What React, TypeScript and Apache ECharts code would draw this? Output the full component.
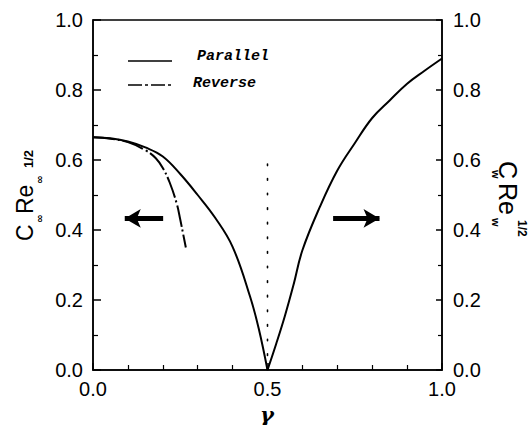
import React, { useEffect, useRef } from "react";
import * as echarts from "echarts";

// Parallel flow: left branch (C_inf Re_inf^1/2) and right branch (C_w Re_w^1/2)
const parallelLeftX = [0, 0.05, 0.1, 0.15, 0.2, 0.25, 0.3, 0.35, 0.4, 0.45, 0.475, 0.5];
const parallelLeftY = [0.665, 0.662, 0.653, 0.636, 0.61, 0.56, 0.5, 0.435, 0.352, 0.21, 0.118, 0.0];
const parallelRightX = [0.5, 0.525, 0.55, 0.575, 0.6, 0.65, 0.7, 0.75, 0.8, 0.85, 0.9, 0.95, 1.0];
const parallelRightY = [0.0, 0.075, 0.155, 0.245, 0.342, 0.466, 0.57, 0.648, 0.72, 0.77, 0.818, 0.855, 0.89];
// Reverse flow
const reverseX = [0, 0.05, 0.1, 0.15, 0.18, 0.2, 0.22, 0.24, 0.25, 0.258, 0.266];
const reverseY = [0.665, 0.661, 0.651, 0.628, 0.605, 0.577, 0.535, 0.475, 0.43, 0.39, 0.35];
// Dotted marker at gamma = 0.5
const dottedX = [0.5, 0.5];
const dottedY = [0.0, 0.62];
// Arrows (left points to left axis, right points to right axis)
const leftArrowX = [0.201, 0.091];
const rightArrowX = [0.688, 0.821];
const arrowY = 0.433;

const yTicks = [0, 0.2, 0.4, 0.6, 0.8, 1.0];
const xTicks = [0, 0.5, 1.0];

const zip = (xs: number[], ys: number[]) => xs.map((x, i) => [x, ys[i]]);

export default function App() {
  const ref = useRef<HTMLDivElement>(null);
  useEffect(() => {
    const chart = echarts.init(ref.current!, undefined, { renderer: "svg" });
    const black = "#000";
    const tickFont = { color: black, fontFamily: "Liberation Sans", fontSize: 20 };
    const yAxisBase = {
      type: "value",
      min: yTicks[0],
      max: yTicks[yTicks.length - 1],
      interval: 0.2,
      axisLine: { show: true, lineStyle: { color: black, width: 1.5 } },
      axisTick: { show: true, inside: true, length: 8, lineStyle: { color: black, width: 1.5 } },
      minorTick: { show: true, splitNumber: 2, length: 5, lineStyle: { color: black, width: 1.2 } },
      splitLine: { show: false },
      axisLabel: { ...tickFont, margin: 10, formatter: (v: number) => v.toFixed(1) },
    };
    const curve = (name: string, data: number[][], dash?: number[]) => ({
      name,
      type: "line",
      data,
      showSymbol: false,
      symbol: "none",
      smooth: 0.4,
      lineStyle: { color: black, width: 2, type: dash || "solid" },
      silent: true,
    });
    const option: any = {
      animation: false,
      backgroundColor: "#fff",
      grid: {
        left: 93,
        right: 89,
        top: 20,
        bottom: 55,
        show: true,
        borderColor: black,
        borderWidth: 1.5,
        containLabel: false,
        outerBoundsMode: "none",
      },
      xAxis: {
        type: "value",
        min: xTicks[0],
        max: xTicks[xTicks.length - 1],
        interval: 0.5,
        axisLine: { show: true, lineStyle: { color: black, width: 1.5 } },
        axisTick: { show: true, inside: true, length: 7, lineStyle: { color: black, width: 1.5 } },
        minorTick: { show: true, splitNumber: 5, length: 5, lineStyle: { color: black, width: 1.2 } },
        splitLine: { show: false },
        axisLabel: { ...tickFont, margin: 9, formatter: (v: number) => v.toFixed(1) },
      },
      yAxis: [
        { ...yAxisBase, position: "left" },
        {
          ...yAxisBase,
          position: "right",
          axisTick: { show: true, inside: true, length: 6, lineStyle: { color: black, width: 1.5 } },
          minorTick: { show: true, splitNumber: 2, length: 4, lineStyle: { color: black, width: 1.2 } },
          axisLabel: { ...tickFont, margin: 11, formatter: (v: number) => v.toFixed(1) },
        },
      ],
      series: [
        curve("Parallel", zip(parallelLeftX, parallelLeftY)),
        curve("Parallel", zip(parallelRightX, parallelRightY)),
        curve("Reverse", zip(reverseX, reverseY), [22, 3, 2, 3]),
        {
          name: "marker",
          type: "line",
          data: zip(dottedX, dottedY),
          showSymbol: false,
          symbol: "none",
          lineStyle: { color: black, width: 1.6, type: [1.6, 13], cap: "round" },
          silent: true,
          markLine: {
            silent: true,
            symbol: ["none", "arrow"],
            symbolSize: [14, 16],
            label: { show: false },
            lineStyle: { color: black, width: 5, type: "solid" },
            data: [
              [{ coord: [leftArrowX[0], arrowY] }, { coord: [leftArrowX[1], arrowY] }],
              [{ coord: [rightArrowX[0], arrowY] }, { coord: [rightArrowX[1], arrowY] }],
            ],
          },
        },
      ],
      graphic: [
        // x-axis title
        {
          type: "text",
          x: 267,
          y: 424,
          style: {
            text: "γ",
            fill: black,
            fontFamily: "DejaVu Serif",
            fontStyle: "italic",
            fontWeight: "bold",
            fontSize: 21,
            lineHeight: 20,
            align: "center",
            verticalAlign: "bottom",
          },
        },
        // Legend
        { type: "line", shape: { x1: 128, y1: 61, x2: 172, y2: 61 }, style: { stroke: black, lineWidth: 1.5 } },
        {
          type: "text",
          x: 197,
          y: 56,
          style: {
            text: "Parallel",
            fill: black,
            fontFamily: "Liberation Mono",
            fontStyle: "italic",
            fontWeight: "bold",
            fontSize: 15,
            align: "left",
            verticalAlign: "middle",
          },
        },
        {
          type: "line",
          shape: { x1: 128, y1: 85, x2: 173, y2: 85 },
          style: { stroke: black, lineWidth: 1.5, lineDash: [14, 3, 3, 3] },
        },
        {
          type: "text",
          x: 193,
          y: 83,
          style: {
            text: "Reverse",
            fill: black,
            fontFamily: "Liberation Mono",
            fontStyle: "italic",
            fontWeight: "bold",
            fontSize: 15,
            align: "left",
            verticalAlign: "middle",
          },
        },
        // Left axis title: C∞ Re∞^(1/2), reading bottom to top
        { type: "text", x: 25, y: 241, rotation: Math.PI / 2, style: { text: "C", fill: black, fontFamily: "Liberation Sans", fontSize: 23, align: "left", verticalAlign: "middle" } },
        { type: "text", x: 39, y: 223, rotation: Math.PI / 2, style: { text: "∞", fill: black, fontFamily: "DejaVu Sans", fontWeight: "bold", fontSize: 10, align: "left", verticalAlign: "middle" } },
        { type: "text", x: 25, y: 214, rotation: Math.PI / 2, style: { text: "Re", fill: black, fontFamily: "Liberation Sans", fontSize: 23, align: "left", verticalAlign: "middle" } },
        { type: "text", x: 39, y: 184, rotation: Math.PI / 2, style: { text: "∞", fill: black, fontFamily: "DejaVu Sans", fontWeight: "bold", fontSize: 10, align: "left", verticalAlign: "middle" } },
        { type: "text", x: 28, y: 168, rotation: Math.PI / 2, style: { text: "1/2", fill: black, fontFamily: "Liberation Sans", fontWeight: "bold", fontSize: 13, align: "left", verticalAlign: "middle" } },
        // Right axis title: Cw Rew^(1/2), reading top to bottom
        { type: "text", x: 508, y: 161, rotation: -Math.PI / 2, style: { text: "C", fill: black, fontFamily: "Liberation Sans", fontSize: 25, align: "left", verticalAlign: "middle" } },
        { type: "text", x: 496, y: 170, rotation: -Math.PI / 2, style: { text: "w", fill: black, fontFamily: "Liberation Sans", fontWeight: "bold", fontSize: 11, align: "left", verticalAlign: "middle" } },
        { type: "text", x: 508, y: 183, rotation: -Math.PI / 2, style: { text: "Re", fill: black, fontFamily: "Liberation Sans", fontSize: 25, align: "left", verticalAlign: "middle" } },
        { type: "text", x: 496, y: 218, rotation: -Math.PI / 2, style: { text: "w", fill: black, fontFamily: "Liberation Sans", fontWeight: "bold", fontSize: 11, align: "left", verticalAlign: "middle" } },
        { type: "text", x: 522, y: 220, rotation: -Math.PI / 2, style: { text: "1/2", fill: black, fontFamily: "Liberation Sans", fontWeight: "bold", fontSize: 12, align: "left", verticalAlign: "middle" } },
      ],
    };
    chart.setOption(option);
    return () => chart.dispose();
  }, []);
  return (
    <div
      ref={ref}
      style={{ position: "fixed", left: 0, top: 0, width: 531, height: 425, background: "#fff" }}
    />
  );
}
